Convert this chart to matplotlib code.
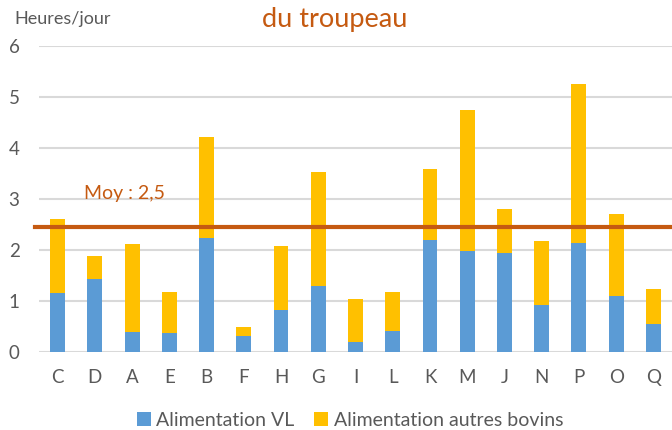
import matplotlib
matplotlib.use("Agg")
from matplotlib import pyplot as plt
import numpy as np

plt.rcParams['font.family'] = ['Lato', 'DejaVu Sans']

# data
exploitations = ['C', 'D', 'A', 'E', 'B', 'F', 'H', 'G', 'I', 'L', 'K', 'M', 'J', 'N', 'P', 'O', 'Q']
alim_vl = [1.15, 1.44, 0.40, 0.37, 2.23, 0.31, 0.82, 1.30, 0.20, 0.41, 2.20, 1.98, 1.95, 0.93, 2.13, 1.09, 0.55]
total = [2.61, 1.88, 2.11, 1.17, 4.22, 0.50, 2.08, 3.52, 1.03, 1.17, 3.58, 4.75, 2.81, 2.17, 5.26, 2.71, 1.24]
alim_autres = [t - v for t, v in zip(total, alim_vl)]
moyenne = 2.46

blue = '#5B9BD5'
yellow = '#FFC000'
brown = '#C55A11'
grey = '#595959'

fig = plt.figure(figsize=(6.72, 4.30), dpi=100)
ax = fig.add_axes([39 / 672, 78 / 430, 633 / 672, 306 / 430])

x = np.arange(len(exploitations))
ax.bar(x, alim_vl, width=0.4, color=blue, label='Alimentation VL', zorder=3)
ax.bar(x, alim_autres, width=0.4, bottom=alim_vl, color=yellow,
       label='Alimentation autres bovins', zorder=3)

ax.plot([-0.6, len(x) - 0.5], [moyenne, moyenne], color=brown, lw=3, zorder=4, clip_on=False)
ax.text(0.7, 3.1, 'Moy : 2,5', color=brown, fontsize=14, va='center', ha='left')

ax.set_xlim(-0.5, len(x) - 0.5)
ax.set_ylim(0, 6)
ax.set_yticks(range(7))
ax.set_xticks(x)
ax.set_xticklabels(exploitations)
ax.yaxis.grid(True, color='#D9D9D9', lw=1.5, zorder=0)
ax.tick_params(axis='both', length=0, labelsize=13.5, colors=grey)
ax.tick_params(axis='y', pad=14)
ax.tick_params(axis='x', pad=12)
for s in ax.spines.values():
    s.set_visible(False)

fig.text(14 / 672, 1 - 19 / 430, 'Heures/jour', fontsize=13, color=grey, va='center')
fig.text(335 / 672, 1 - 20 / 430, 'du troupeau', fontsize=19.5, color=brown, va='center', ha='center')

fig.legend(loc='center', bbox_to_anchor=(350 / 672, 1 - 420 / 430), ncol=2, frameon=False,
           fontsize=14, handlelength=0.7, handleheight=0.7, handletextpad=0.3,
           columnspacing=1.0, labelcolor=grey)

fig.savefig('out.png', dpi=100)
